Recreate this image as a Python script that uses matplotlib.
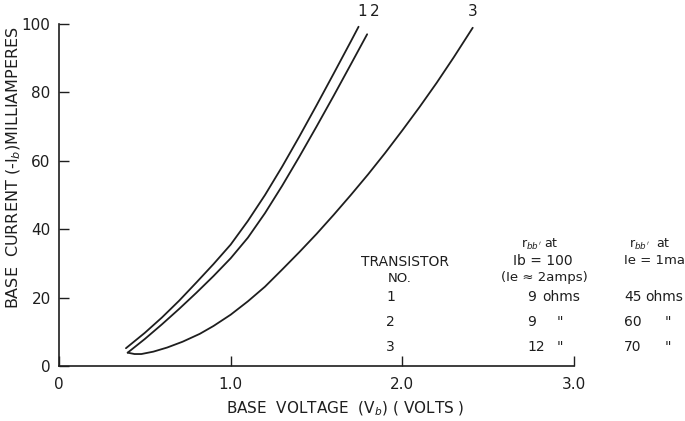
#!/usr/bin/env python3
"""Base current vs base voltage for three transistors (rbb' table)."""

import matplotlib.pyplot as plt

inkcol = '#1e1e1e'

# curves, volts -> milliamperes
v1 = [0.39, 0.5, 0.6, 0.7, 0.8, 0.9, 1.0, 1.1, 1.2, 1.3, 1.4, 1.5, 1.6,
      1.7, 1.745]
i1 = [5.2, 9.7, 14.2, 19.1, 24.4, 29.8, 35.5, 42.4, 50.0, 58.3, 67.1, 76.2,
      85.5, 94.9, 99.2]

v2 = [0.40, 0.5, 0.6, 0.7, 0.8, 0.9, 1.0, 1.1, 1.2, 1.3, 1.4, 1.5, 1.6,
      1.7, 1.795]
i2 = [3.9, 7.9, 12.2, 16.7, 21.4, 26.3, 31.5, 37.5, 44.7, 52.7, 61.2, 70.0,
      79.0, 88.2, 97.0]

v3 = [0.40, 0.44, 0.48, 0.55, 0.63, 0.72, 0.82, 0.9, 1.0, 1.1, 1.2, 1.3,
      1.4, 1.5, 1.6, 1.7, 1.8, 1.9, 2.0, 2.1, 2.2, 2.3, 2.41]
i3 = [3.9, 3.5, 3.5, 4.2, 5.4, 7.1, 9.4, 11.7, 15.0, 18.9, 23.2, 28.2,
      33.3, 38.6, 44.2, 50.0, 56.0, 62.3, 68.9, 75.7, 82.8, 90.3, 98.9]

curve_names = ['1', '2', '3']

xticks = [0, 1.0, 2.0, 3.0]
xticklabels = ['0', '1.0', '2.0', '3.0']
yticks = [0, 20, 40, 60, 80, 100]

# table of rbb' values
trans_no = ['1', '2', '3']
rbb_hi = ['9', '9', '12']
rbb_hi_unit = ['ohms', '"', '"']
rbb_lo = ['45', '60', '70']
rbb_lo_unit = ['ohms', '"', '"']

fig = plt.figure(figsize=(6.85, 4.21), dpi=100)
ax = fig.add_axes([59 / 685, 1 - 366 / 421, 515 / 685, 342 / 421])

for v, i in [(v1, i1), (v2, i2), (v3, i3)]:
    ax.plot(v, i, color=inkcol, lw=1.3, solid_capstyle='round',
            solid_joinstyle='round')

# curve numbers just above the top end of each curve
for name, v, dx in zip(curve_names, [v1, v2, v3], [0.02, 0.045, 0.0]):
    ax.text(v[-1] + dx, 101.5, name, color=inkcol, fontsize=11,
            ha='center', va='bottom', clip_on=False)

ax.set_xlim(0, 3.0)
ax.set_ylim(0, 100)
ax.spines['top'].set_visible(False)
ax.spines['right'].set_visible(False)
ax.spines['left'].set_color(inkcol)
ax.spines['bottom'].set_color(inkcol)
ax.spines['left'].set_linewidth(1.2)
ax.spines['bottom'].set_linewidth(1.2)

ax.set_xticks(xticks)
ax.set_xticklabels(xticklabels)
ax.set_yticks(yticks)
ax.tick_params(axis='both', direction='in', length=7, width=1.0,
               colors=inkcol, labelsize=11)
ax.tick_params(axis='x', pad=8)
ax.tick_params(axis='y', pad=6)

ax.set_xlabel('BASE  VOLTAGE  (V$_b$) ( VOLTS )', color=inkcol,
              fontsize=11, va='center')
ax.xaxis.set_label_coords((345 - 59) / 515, -(409 - 366) / 342)
ax.set_ylabel('BASE  CURRENT (-I$_b$)MILLIAMPERES', color=inkcol,
              fontsize=11.5, va='center')
ax.yaxis.set_label_coords(-(59 - 14) / 515, (366 - 168) / 342)


def ftext(x, y, s, fontsize=10, **kw):
    fig.text(x / 685, 1 - y / 421, s, color=inkcol, fontsize=fontsize,
             va='center', **kw)


# table header
ftext(405, 262, 'TRANSISTOR', ha='center')
ftext(400, 278, 'NO.', ha='center', fontsize=9.5)
ftext(540, 244, "r$_{bb'}$ at", ha='center', fontsize=9)
ftext(543, 261, 'Ib = 100', ha='center')
ftext(544, 278, '(Ie ≈ 2amps)', ha='center', fontsize=9.5)
ftext(650, 244, "r$_{bb'}$  at", ha='center', fontsize=9)
ftext(655, 261, 'Ie = 1ma', ha='center', fontsize=9.5)

row_y = [297, 322, 347]
for y, no, hi, hu, lo, lu in zip(row_y, trans_no, rbb_hi, rbb_hi_unit,
                                 rbb_lo, rbb_lo_unit):
    ftext(386, y, no, ha='left')
    ftext(527, y, hi, ha='left')
    ftext(542 if hu == 'ohms' else 557, y, hu, ha='left')
    ftext(624, y, lo, ha='left')
    ftext(645 if lu == 'ohms' else 665, y, lu, ha='left')

fig.savefig('out.png', dpi=100, facecolor='white')
